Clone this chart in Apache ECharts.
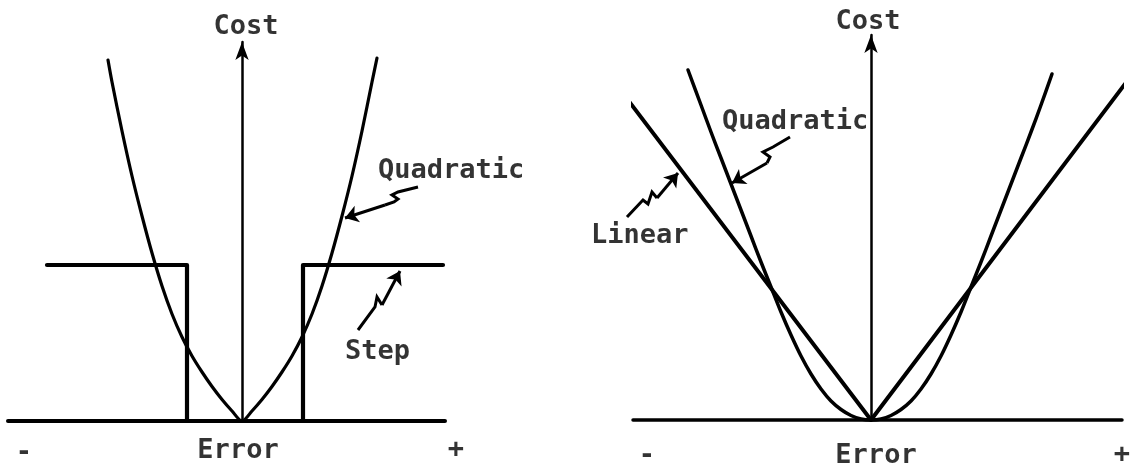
<!DOCTYPE html>
<html>
<head>
<meta charset="utf-8">
<script src="https://cdn.jsdelivr.net/npm/echarts@6/dist/echarts.min.js"></script>
<style>
html,body{margin:0;padding:0;background:#fff;}
#c{width:1134px;height:470px;}
</style>
</head>
<body>
<div id="c"></div>
<script>
// ---- Data (arbitrary error / cost units, origin at the vertex) ----
// Left panel: quadratic vs. step cost
const leftQuadratic = [[-13.4,36.1],[-13,33.9],[-12,29.0],[-11,24.5],[-10,20.5],[-9,16.8],[-8,13.5],[-7,10.7],[-6,8.4],[-5,6.5],[-4,4.9],[-3,3.45],[-2,2.15],[-1,1.0],[0,0],[1,1.0],[2,2.15],[3,3.45],[4,4.9],[5,6.5],[6,8.4],[7,10.7],[8,13.5],[9,16.8],[10,20.5],[11,24.5],[12,29.0],[13,33.9],[13.5,36.3]];
const leftStep = [[-19.5,15.6],[-5.5,15.6],[-5.5,0],[6.1,0],[6.1,15.6],[20.1,15.6]];
// Right panel: quadratic vs. linear cost
const rightQuadratic = [[-18.3,35.0],[-17,31.5],[-16,28.8],[-15,26.2],[-14,23.6],[-13,21.0],[-12,18.4],[-11,15.8],[-10,13.3],[-9,10.8],[-8,8.5],[-7,6.4],[-6,4.6],[-5,3.1],[-4,1.9],[-3,1.05],[-2,0.45],[-1,0.1],[0,0],[1,0.1],[2,0.45],[3,1.05],[4,1.9],[5,3.1],[6,4.6],[7,6.4],[8,8.5],[9,10.8],[10,13.3],[11,15.8],[12,18.4],[13,21.0],[14,23.6],[15,26.2],[16,28.8],[17,31.5],[18.1,34.6]];
const rightLinear = [[-25.9,34.1],[0,0],[25.7,34.0]];

// Axis extents
const leftX = [-23.4, 20.3], leftY = [0, 37.9];
const rightX = [-23.8, 25.1], rightY = [0, 38.5];

// Axis names / end labels
const axisNameY = 'Cost';
const axisNameX = 'Error';
const tickLabels = ['-', '+'];

// Text annotations: [x, y, text]
const leftTexts = [[13.6,25.0,'Quadratic'],[10.3,6.9,'Step']];
const rightTexts = [[-14.9,29.8,'Quadratic'],[-28.0,18.4,'Linear']];
const leftAxisTexts = [[0.4,39.4,axisNameY],[-0.4,-3.0,axisNameX],[-21.8,-3.2,tickLabels[0]],[21.4,-2.9,tickLabels[1]]];
const rightAxisTexts = [[-0.3,39.8,axisNameY],[0.5,-3.6,axisNameX],[-22.4,-3.6,tickLabels[0]],[25.1,-3.5,tickLabels[1]]];

// Squiggly pointer arrows (polylines; the last segment carries the arrowhead)
const leftQuadArrow = [[17.6,23.4],[15.6,22.9],[15.0,22.6],[15.6,22.2],[15.2,21.9],[14.3,21.6],[10.3,20.3]];
const leftStepArrow = [[11.6,9.1],[13.3,11.4],[13.5,12.4],[14.0,11.6],[15.8,15.0]];
const rightQuadArrow = [[-8.1,28.3],[-9.8,27.3],[-10.8,26.8],[-10.1,26.3],[-10.4,25.7],[-13.9,23.7]];
const rightLinearArrow = [[-24.4,20.3],[-22.8,22.0],[-22.3,21.6],[-21.9,22.8],[-21.4,22.2],[-19.3,24.7]];

const FONT = '"DejaVu Sans Mono", "Liberation Mono", monospace';
const INK = '#000';

function xAxisCfg(idx, ext, w){
  return {type:'value', gridIndex:idx, min:ext[0], max:ext[1],
    axisLine:{show:true, onZero:true, lineStyle:{color:INK, width:w}},
    axisTick:{show:false}, axisLabel:{show:false}, splitLine:{show:false}};
}
function yAxisCfg(idx, ext){
  return {type:'value', gridIndex:idx, min:ext[0], max:ext[1],
    axisLine:{show:true, onZero:true, lineStyle:{color:INK, width:2.5},
      symbol:['none','arrow'], symbolSize:[10,18], symbolOffset:[0,0]},
    axisTick:{show:false}, axisLabel:{show:false}, splitLine:{show:false}};
}
function curve(idx, data, w, smooth){
  return {type:'line', xAxisIndex:idx, yAxisIndex:idx, data:data, showSymbol:false, symbol:'none',
    smooth:smooth, clip:false, lineStyle:{color:INK, width:w, join:'round', cap:'round'}, z:3, silent:true};
}
function texts(idx, data, align){
  return {type:'scatter', xAxisIndex:idx, yAxisIndex:idx, data:data, symbolSize:0, clip:false, silent:true,
    itemStyle:{color:'transparent'},
    label:{show:true, position:'inside', align:align, verticalAlign:'middle',
      formatter:p=>p.data[2], color:INK, fontFamily:FONT, fontSize:27, fontWeight:'bold',
      textBorderWidth:0, textBorderColor:'transparent'}, z:5};
}
function pointer(idx, coords){
  const n = coords.length;
  return [
    {type:'lines', coordinateSystem:'cartesian2d', xAxisIndex:idx, yAxisIndex:idx, polyline:true,
      clip:false, silent:true, symbol:'none',
      lineStyle:{color:INK, width:3, opacity:1}, data:[{coords:coords.slice(0, n-1)}], z:4},
    {type:'lines', coordinateSystem:'cartesian2d', xAxisIndex:idx, yAxisIndex:idx, polyline:false,
      clip:false, silent:true, symbol:['none','arrow'], symbolSize:13,
      lineStyle:{color:INK, width:3, opacity:1}, data:[{coords:coords.slice(n-2)}], z:4}
  ];
}

const chart = echarts.init(document.getElementById('c'), null, {renderer:'canvas'});
chart.setOption({
  backgroundColor:'#fff',
  animation:false,
  grid:[
    {left:8, top:42, width:437, height:379},
    {left:633, top:35, width:489, height:385}
  ],
  xAxis:[xAxisCfg(0, leftX, 4), xAxisCfg(1, rightX, 3.5)],
  yAxis:[yAxisCfg(0, leftY), yAxisCfg(1, rightY)],
  series:[
    curve(0, leftQuadratic, 3.2, 0.3),
    curve(0, leftStep, 4.2, false),
    curve(1, rightQuadratic, 3.5, 0.3),
    curve(1, rightLinear, 4, false),
    texts(0, leftTexts, 'left'),
    texts(1, rightTexts, 'left'),
    texts(0, leftAxisTexts, 'center'),
    texts(1, rightAxisTexts, 'center')
  ].concat(pointer(0, leftQuadArrow), pointer(0, leftStepArrow), pointer(1, rightQuadArrow), pointer(1, rightLinearArrow))
});
</script>
</body>
</html>
